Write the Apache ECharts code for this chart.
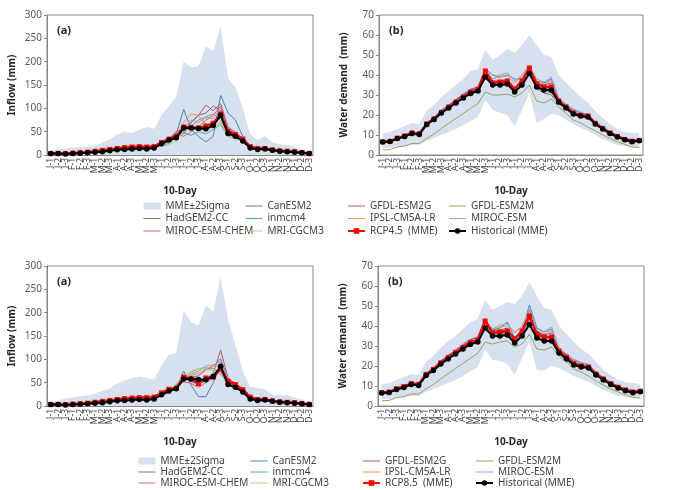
<!DOCTYPE html>
<html lang="en">
<head>
<meta charset="UTF-8">
<title>Inflow and water demand (10-day)</title>
<script src="https://cdn.jsdelivr.net/npm/echarts@6/dist/echarts.min.js"></script>
<style>
    * { margin: 0; padding: 0; }
    body { background: #fff; }
    #main { width: 676px; height: 490px; }
</style>
</head>
<body>
<div id="main"></div>
<script>
// 10-day periods
var days = ['J-1','J-2','J-3','F-1','F-2','F-3','M-1','M-2','M-3','A-1','A-2','A-3',
            'M-1','M-2','M-3','J-1','J-2','J-3','J-1','J-2','J-3','A-1','A-2','A-3',
            'S-1','S-2','S-3','O-1','O-2','O-3','N-1','N-2','N-3','D-1','D-2','D-3'];

var modelNames = ['CanESM2','GFDL-ESM2G','GFDL-ESM2M','HadGEM2-CC','inmcm4','IPSL-CM5A-LR','MIROC-ESM','MIROC-ESM-CHEM','MRI-CGCM3'];
var modelColors = ['#4f81bd','#b65c57','#9aa35a','#8064a2','#4bacc6','#f79646','#8aa8dc','#e0606a','#bccb7e'];

var yTicksInflow = { max: 300, step: 50 };
var yTicksDemand = { max: 70, step: 10 };

// ---- inflow (mm) ----
var histInflow    = [3,3,2,3,4,5,6,7,9,11,12,13,14,13,15,24,32,37,58,58,57,56,63,85,46,40,30,15,12,13,10,8,7,6,5,3];
var rcp45Inflow   = [3,3,3,4,5,6,8,10,12,14,16,17,18,17,18,27,34,40,60,59,58,62,68,88,50,44,34,18,14,14,11,9,8,7,5,3];
var rcp85Inflow   = [3,3,3,4,5,6,8,10,12,14,16,17,18,18,19,28,36,38,62,58,48,60,62,80,53,46,35,19,14,14,11,9,8,7,5,3];
var upper45Inflow = [10,12,14,16,17,18,20,26,34,44,50,47,54,60,56,85,105,125,200,188,190,233,222,275,165,145,100,45,32,40,27,23,21,17,12,8];
var upper85Inflow = [9,12,16,18,21,23,26,32,38,48,55,60,63,60,56,87,110,113,205,180,172,216,202,276,187,130,75,42,38,36,24,23,23,18,14,9];

var canA   = [2,3,3,4,5,6,7,9,11,13,15,16,17,16,17,25,30,45,98,55,40,28,40,128,90,75,40,18,13,14,10,8,7,6,5,3];
var gfdlgA = [3,3,3,4,5,7,8,10,13,15,17,18,18,17,18,24,28,40,52,70,85,107,95,110,60,48,35,20,15,14,11,9,8,7,5,3];
var gfdlmA = [3,3,3,4,5,6,8,10,12,15,16,16,17,17,19,22,28,35,50,62,75,82,88,75,45,40,30,17,13,13,10,8,7,6,5,3];
var hadA   = [3,3,3,4,5,6,8,9,12,14,15,16,17,17,18,25,35,50,45,70,85,90,105,95,55,45,35,19,14,14,11,9,7,6,5,3];
var inmA   = [2,2,3,3,4,5,7,8,11,13,14,15,16,15,17,20,25,38,48,42,50,45,55,65,40,35,28,16,12,12,9,7,6,5,4,2];
var ipslA  = [3,3,3,4,5,6,8,10,12,15,16,17,18,17,19,22,30,45,70,88,85,65,60,70,45,38,30,17,13,13,10,8,7,6,5,3];
var mirocA = [3,3,3,4,5,6,8,10,12,14,16,17,18,17,18,24,32,48,58,75,70,80,78,100,60,50,35,19,14,14,11,9,8,7,5,3];
var mchemA = [3,3,4,4,5,7,8,10,13,15,17,18,19,18,19,26,34,45,40,50,60,75,85,105,58,48,36,20,15,14,11,9,8,7,5,3];
var mriA   = [3,3,3,4,5,6,7,9,11,13,15,16,17,16,18,18,22,30,52,60,55,50,62,70,40,35,28,16,12,12,10,8,7,6,5,3];

var canC   = [3,3,3,4,5,6,8,10,12,14,16,17,18,17,18,22,30,40,75,45,20,20,50,86,60,45,32,18,13,13,10,8,7,6,5,3];
var gfdlgC = [3,3,4,4,5,7,9,11,13,15,17,18,19,18,19,26,34,40,55,62,58,55,70,120,60,48,36,20,15,14,11,9,8,7,5,3];
var gfdlmC = [3,3,3,4,5,6,8,10,12,14,16,17,18,17,18,25,32,45,58,72,80,82,80,70,48,42,32,18,13,13,10,8,7,6,5,3];
var hadC   = [3,3,3,4,5,7,8,10,12,15,17,18,19,18,19,28,36,42,58,60,65,78,85,101,58,48,35,19,14,14,11,9,8,7,5,3];
var inmC   = [2,2,3,3,4,5,7,9,11,13,15,16,17,16,17,22,28,38,60,52,45,55,70,75,48,40,30,17,12,12,9,7,6,5,4,2];
var ipslC  = [3,3,3,4,5,6,8,10,12,14,16,17,18,17,18,26,32,42,60,65,70,80,86,85,52,44,33,18,14,13,10,8,7,6,5,3];
var mirocC = [3,3,3,4,5,6,8,10,12,14,16,17,18,17,18,25,33,45,62,68,75,86,88,95,58,46,34,19,14,14,11,9,8,7,5,3];
var mchemC = [3,3,4,4,5,7,9,11,13,15,17,18,19,18,19,27,35,40,52,48,40,50,60,88,55,47,35,20,15,14,11,9,8,7,5,3];
var mriC   = [3,3,3,4,5,6,8,10,12,14,16,17,18,17,18,22,30,48,65,75,80,80,75,68,45,40,30,17,13,13,10,8,7,6,5,3];

// ---- water demand (mm) ----
var histDemand    = [6.5,6.7,8.2,9.2,10.8,10.3,15.3,17.8,21,23.5,26,28.5,30.8,32,39,35,35,35.5,31.5,35,40.8,34,32.5,32.5,26.5,23.5,20.5,19.5,19,15.5,13,10.8,9,7.6,6.6,7.1];
var rcp45Demand   = [6.6,6.8,8.4,9.5,11,10.6,15.5,18,21.3,24,26.5,29,31.5,32.8,42,36,36.5,37,33,37,43.5,35.5,34,34,27,24,21,19.8,19.5,15.8,13.3,11,9.3,7.8,6.9,7.3];
var rcp85Demand   = [6.7,6.9,8.6,9.7,11.2,10.8,15.8,18.3,21.6,24.3,26.8,29.3,31.8,33,42.5,36.5,37,37.5,33.5,37.5,45,36,34.5,34.5,27.5,24.5,21.3,20,19.5,16,13.5,11.2,9.4,8,7,7.4];
var upper45Demand = [11,11.5,13,14.5,16,15.5,22,25,29,32,35,38,42,43,52.5,47.5,50,53,51,55,60,55,50,49,40,36,32.5,29,26,22,18.5,15.5,13,11.5,11,11];
var lower45Demand = [3.5,3.5,4,4.5,5,5,7,8.5,10,11.5,13,15,17,19,27.5,22.5,21,20,14.5,22.5,31,16,18,20.5,20,17.5,15.5,13.5,12,10,8,6.5,5,4.5,4,4];
var upper85Demand = [11,11.5,13,14.5,16,15.5,22,25,29,32.5,35,38.5,42,43.5,53,48,50,52,51,55,62,55,49,48,40,36,32,28.5,26,22,18,15.5,13,12,11.5,11];
var lower85Demand = [3.5,3.5,4,4.5,5,5,7,8.5,10,11.5,13,15,17.5,19.5,28,23,22.5,21,15.5,24,32,18,18,20,19,17,15,13.5,12,10,8,6.5,5,4.5,4,4];

var canB   = [6.8,7,8.8,9.8,11.5,11,16,18.5,22,24.8,27.5,30,32.5,34,43,40,39,40,38,38,44,37,36,38,28,25,22.5,21,20.5,16.5,14,11.5,9.8,8.4,7.6,7.6];
var gfdlgB = [6.5,6.7,8.2,9.2,10.8,10.5,15.2,17.8,21,23.8,26.3,28.8,31.2,32.5,41,35,36,36,32,36,42,33,31,30,25.5,22.8,20,19,18.5,15,12.8,10.6,9,7.7,7,7.1];
var gfdlmB = [2.5,2.7,4,4.5,5.8,5.8,8.3,10.5,13.3,15.8,18.3,20.8,23.3,25.8,31.5,30,30,30.5,29,31,35,27,26,28,24,21,17.5,16,14,12,10,8.2,6.7,5.3,4,3.8];
var hadB   = [6.8,7,8.6,9.7,11.4,11,16,18.8,22.4,25,27.8,30.5,33,34,43,37,37,38,33.5,38,44,36,35,36,28,24.5,21.5,20.2,19.8,16,13.5,11.2,9.5,8.2,7.4,7.5];
var inmB   = [6.4,6.6,8.1,9.1,10.7,10.3,15,17.5,20.8,23.5,26,28.4,30.8,32.2,41,35,35.5,36,32,35.5,42,33.5,32,31,26,23.5,21,20,19.5,15.5,13,10.8,9.1,7.8,7.1,7.2];
var ipslB  = [6.7,6.9,8.5,9.6,11.2,10.8,15.8,18.4,21.7,24.5,27,29.5,32,33.4,42.5,38,39,39.5,36,39.5,45,37,35.5,37,28,24.8,21.6,20.3,19.8,16,13.5,11.1,9.4,8.1,7.3,7.4];
var mirocB = [6.6,6.8,8.4,9.5,11.1,10.7,15.6,18.2,21.5,24.2,26.8,29.3,31.8,33.2,42,38,40,41,37,40,44.5,38,36.5,39,28.5,25.5,23,21.5,20,16.3,13.6,11.2,9.5,8.2,7.3,7.4];
var mchemB = [6.7,6.9,8.5,9.6,11.2,10.8,15.7,18.3,21.6,24.3,26.9,29.4,31.8,33.1,42.3,36.5,37,37.5,33.5,37.5,43.8,35,33,33,27,24,21,19.8,19.4,15.8,13.3,11,9.3,8,7.2,7.3];
var mriB   = [6.5,6.7,8.3,9.3,10.9,10.5,15.3,17.9,21.2,23.8,26.3,28.8,31.2,32.6,41.5,35.5,36,36.5,32.5,36,42.5,34.5,33,33.5,26.5,23.5,20.8,19.6,19.2,15.6,13.1,10.9,9.2,7.9,7.1,7.2];

var canD   = [6.9,7.1,9,10,11.8,11.3,16.3,18.8,22.3,25.2,27.8,30.3,33,34.5,43.5,38,39,42,34,38,50.5,39,37,38.5,28.5,25.5,23,21.5,20.8,16.8,14.2,11.6,9.9,8.5,7.7,7.7];
var gfdlgD = [6.6,6.8,8.4,9.4,11,10.6,15.5,18,21.3,24,26.6,29,31.4,32.8,42,36,36.5,37,32.8,37,46,35,33.5,33.5,27,24,21,19.8,19.2,15.6,13.2,10.9,9.2,7.9,7.1,7.2];
var gfdlmD = [2.6,2.8,4.2,4.7,6,6,8.6,10.8,13.6,16.2,18.8,21.3,23.8,26.3,32,31,32,32.5,29.5,31,36,28.5,28,29.5,25,22,18.5,17,15,12.5,10.5,8.5,7,5.5,4.2,4];
var hadD   = [6.9,7.1,8.8,9.9,11.6,11.2,16.2,19,22.6,25.3,28,30.8,33.3,34.4,43.5,37.5,38,39,34,38.5,48,37,35.5,36.5,28.5,25,22,20.6,20,16.3,13.7,11.4,9.6,8.3,7.5,7.6];
var inmD   = [6.5,6.7,8.3,9.3,10.9,10.5,15.3,17.8,21.1,23.8,26.3,28.7,31.1,32.5,41.5,35.5,36,36.5,32.5,36,43.5,34.5,33,32,26.8,24,21.4,20.2,19.6,15.7,13.2,10.9,9.2,7.9,7.2,7.3];
var ipslD  = [6.8,7,8.7,9.8,11.4,11,16,18.6,22,24.8,27.3,29.8,32.3,33.7,43,38.5,39.5,40,36.5,40,47,37.5,36,37.5,28.5,25.2,22,20.6,20,16.2,13.7,11.3,9.5,8.2,7.4,7.5];
var mirocD = [6.7,6.9,8.6,9.7,11.3,10.9,15.9,18.5,21.8,24.5,27.1,29.6,32.1,33.5,42.5,38.5,40.5,41,37,40,48.5,38.5,37,39.5,29,26,23.3,21.8,20.3,16.5,13.8,11.4,9.6,8.3,7.4,7.5];
var mchemD = [6.8,7,8.7,9.8,11.4,11,15.9,18.5,21.8,24.6,27.2,29.7,32.1,33.4,42.8,37,37.5,38,34,38,46.5,36,34,34,27.8,24.8,21.6,20.2,19.6,16,13.5,11.2,9.4,8.1,7.3,7.4];
var mriD   = [6.6,6.8,8.5,9.5,11.1,10.7,15.6,18.1,21.4,24.1,26.6,29.1,31.5,32.9,42,36,36.5,37,33,37,45,35,33.5,34,27.2,24.2,21.2,19.9,19.4,15.8,13.3,11,9.3,8,7.2,7.3];

var bandName = 'MME\u00b12Sigma';
var histName = 'Historical (MME)';
var bandColor = '#d6e0ef';
var axisColor = '#868686';
var font = '"Noto Sans", "Open Sans", sans-serif';

var panels = [
    { tag: '(a)', yName: 'Inflow (mm)', ticks: yTicksInflow, upper: upper45Inflow, lower: null,
      models: [canA, gfdlgA, gfdlmA, hadA, inmA, ipslA, mirocA, mchemA, mriA],
      mme: rcp45Inflow, mmeName: 'RCP4.5  (MME)', hist: histInflow,
      grid: { left: 47, top: 15, width: 266, height: 140 } },
    { tag: '(b)', yName: 'Water demand  (mm)', ticks: yTicksDemand, upper: upper45Demand, lower: lower45Demand,
      models: [canB, gfdlgB, gfdlmB, hadB, inmB, ipslB, mirocB, mchemB, mriB],
      mme: rcp45Demand, mmeName: 'RCP4.5  (MME)', hist: histDemand,
      grid: { left: 379, top: 15, width: 264, height: 140 } },
    { tag: '(a)', yName: 'Inflow (mm)', ticks: yTicksInflow, upper: upper85Inflow, lower: null,
      models: [canC, gfdlgC, gfdlmC, hadC, inmC, ipslC, mirocC, mchemC, mriC],
      mme: rcp85Inflow, mmeName: 'RCP8.5  (MME)', hist: histInflow,
      grid: { left: 47, top: 266, width: 266, height: 140 } },
    { tag: '(b)', yName: 'Water demand  (mm)', ticks: yTicksDemand, upper: upper85Demand, lower: lower85Demand,
      models: [canD, gfdlgD, gfdlmD, hadD, inmD, ipslD, mirocD, mchemD, mriD],
      mme: rcp85Demand, mmeName: 'RCP8.5  (MME)', hist: histDemand,
      grid: { left: 378, top: 266, width: 266, height: 140 } }
];

var grids = [], xAxes = [], yAxes = [], series = [], titles = [];

panels.forEach(function (p, i) {
    grids.push({ left: p.grid.left, top: p.grid.top, width: p.grid.width, height: p.grid.height,
                 show: true, borderColor: axisColor, borderWidth: 1, backgroundColor: 'transparent' });
    xAxes.push({
        gridIndex: i, type: 'category', data: days, boundaryGap: true,
        name: '10-Day', nameLocation: 'middle', nameGap: 31,
        nameTextStyle: { fontFamily: font, fontSize: 10, fontWeight: 'bold', color: '#262626' },
        axisLine: { lineStyle: { color: axisColor } },
        axisTick: { length: 3, lineStyle: { color: axisColor } },
        axisLabel: { interval: 0, rotate: 90, fontSize: 8.5, margin: 3, color: '#404040', fontFamily: font },
        splitLine: { show: false }
    });
    yAxes.push({
        gridIndex: i, type: 'value', min: 0, max: p.ticks.max, interval: p.ticks.step,
        name: p.yName, nameLocation: 'middle', nameGap: 30,
        nameTextStyle: { fontFamily: font, fontSize: 10, fontWeight: 'bold', color: '#262626' },
        axisLine: { show: true, lineStyle: { color: axisColor } },
        axisTick: { show: true, length: 3, lineStyle: { color: axisColor } },
        axisLabel: { fontSize: 10, margin: 5, color: '#595959', fontFamily: font },
        splitLine: { show: false }
    });
    titles.push({ text: p.tag, left: p.grid.left + 5, top: p.grid.top + 5,
                  textStyle: { fontFamily: font, fontSize: 11, fontWeight: 'bold', color: '#262626' } });

    // MME +/- 2 sigma band
    if (p.lower) {
        series.push({ type: 'line', xAxisIndex: i, yAxisIndex: i, data: p.lower, stack: 'band' + i,
                      symbol: 'none', lineStyle: { width: 0 }, silent: true, z: 1 });
        series.push({ name: bandName, type: 'line', xAxisIndex: i, yAxisIndex: i, stack: 'band' + i,
                      data: p.upper.map(function (v, k) { return +(v - p.lower[k]).toFixed(2); }),
                      symbol: 'none', color: bandColor, lineStyle: { width: 0 },
                      areaStyle: { color: bandColor, opacity: 1 }, silent: true, z: 1 });
    } else {
        series.push({ name: bandName, type: 'line', xAxisIndex: i, yAxisIndex: i, data: p.upper,
                      symbol: 'none', color: bandColor, lineStyle: { width: 0 },
                      areaStyle: { color: bandColor, opacity: 1 }, silent: true, z: 1 });
    }

    p.models.forEach(function (d, m) {
        series.push({ name: modelNames[m], type: 'line', xAxisIndex: i, yAxisIndex: i, data: d,
                      symbol: 'none', color: modelColors[m], lineStyle: { width: 1 }, z: 2 });
    });

    series.push({ name: p.mmeName, type: 'line', xAxisIndex: i, yAxisIndex: i, data: p.mme,
                  symbol: 'rect', symbolSize: 5, color: '#ff0000', lineStyle: { width: 2.5 }, z: 3 });
    series.push({ name: histName, type: 'line', xAxisIndex: i, yAxisIndex: i, data: p.hist,
                  symbol: 'circle', symbolSize: 5.5, color: '#000000', lineStyle: { width: 2 }, z: 4 });
});

// legends: 4 columns x 3 rows, under each row of panels
function legendColumns(rcpName) {
    return [
        [bandName, 'HadGEM2-CC', 'MIROC-ESM-CHEM'],
        ['CanESM2', 'inmcm4', 'MRI-CGCM3'],
        ['GFDL-ESM2G', 'IPSL-CM5A-LR', rcpName],
        ['GFDL-ESM2M', 'MIROC-ESM', histName]
    ];
}

function legendItem(name) {
    if (name === bandName) return { name: name, icon: 'rect' };
    if (modelNames.indexOf(name) >= 0) return { name: name, itemStyle: { opacity: 0 }, lineStyle: { width: 1 } };
    return { name: name };
}

var legends = [];
var legendRows = [
    { top: 201, gap: 2.5, height: 40, lefts: [143, 245, 347, 448], rcp: 'RCP4.5  (MME)' },
    { top: 456, gap: 1, height: 34, lefts: [138, 250, 362, 475], rcp: 'RCP8.5  (MME)' }
];
legendRows.forEach(function (row) {
    legendColumns(row.rcp).forEach(function (col, c) {
        legends.push({
            orient: 'vertical', left: row.lefts[c], top: row.top, height: row.height, padding: 0,
            itemWidth: 17, itemHeight: 7, itemGap: row.gap, selectedMode: false,
            textStyle: { fontFamily: font, fontSize: 10, lineHeight: 10, color: '#404040' },
            data: col.map(legendItem)
        });
    });
});

var chart = echarts.init(document.getElementById('main'), null, { renderer: 'canvas' });
chart.setOption({
    backgroundColor: '#ffffff',
    animation: false,
    title: titles,
    grid: grids,
    xAxis: xAxes,
    yAxis: yAxes,
    legend: legends,
    series: series
});
</script>
</body>
</html>
